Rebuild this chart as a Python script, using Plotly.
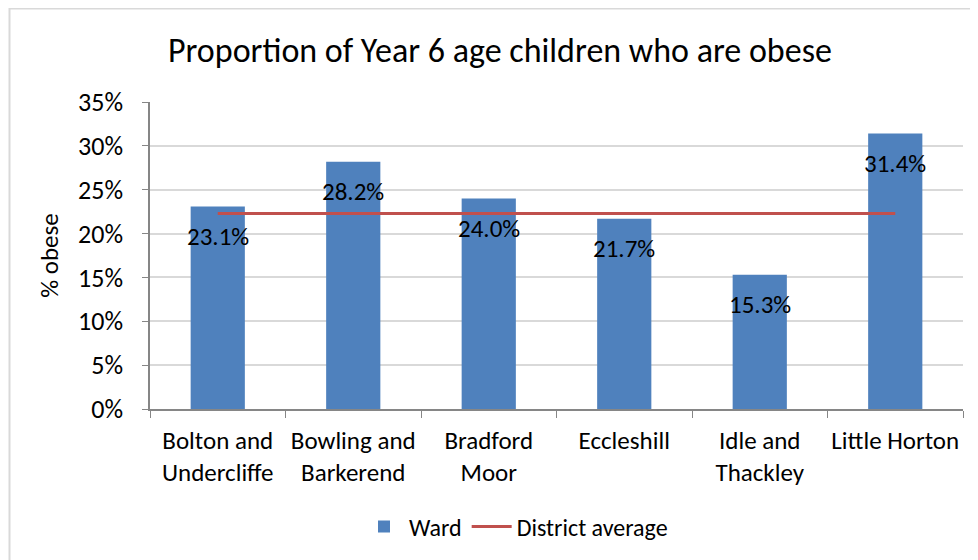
import plotly.graph_objects as go

categories = ["Bolton and<br>Undercliffe", "Bowling and<br>Barkerend", "Bradford<br>Moor",
              "Eccleshill", "Idle and<br>Thackley", "Little Horton"]
ward_values = [23.1, 28.2, 24.0, 21.7, 15.3, 31.4]
district_average = [22.3, 22.3, 22.3, 22.3, 22.3, 22.3]
y_ticks = [0, 5, 10, 15, 20, 25, 30, 35]
y_tick_labels = ["0%", "5%", "10%", "15%", "20%", "25%", "30%", "35%"]

FONT = "Carlito, Calibri, Lato, sans-serif"

# page body has an 8px margin; plot area targeted at page x 150..963, y 102..409
L, T, PW, PH = 142, 94, 813, 307

fig = go.Figure()
fig.add_trace(go.Bar(
    x=categories, y=ward_values, name="Ward",
    marker=dict(color="#4F81BD", line=dict(width=0)),
))
fig.add_trace(go.Scatter(
    x=categories, y=district_average, name="District average",
    mode="lines", line=dict(color="#C0504D", width=3),
))

annotations = [
    dict(x=c, y=v, xref="x", yref="y", text=f"{v:.1f}%", showarrow=False,
         yanchor="middle", xanchor="center", yshift=-30,
         font=dict(size=25, family=FONT, color="black"))
    for c, v in zip(categories, ward_values)
]

fig.update_layout(
    width=978, height=560,
    margin=dict(l=L, r=978 - L - PW, t=T, b=560 - T - PH, autoexpand=False),
    paper_bgcolor="white", plot_bgcolor="white",
    font=dict(family=FONT, size=26, color="black"),
    title=dict(text="Proportion of Year 6 age children who are obese",
               x=0.503, xanchor="center", y=0.925, yanchor="middle",
               font=dict(size=34, family=FONT, color="black")),
    bargap=0.6,
    showlegend=True,
    legend=dict(orientation="h", x=(508 - L) / PW, xanchor="center",
                y=(T + PH - 519) / PH, yanchor="middle",
                font=dict(size=24, family=FONT), traceorder="normal",
                itemwidth=40),
    annotations=annotations,
    shapes=[dict(type="rect", xref="paper", yref="paper",
                 x0=(1.5 - L) / PW, x1=(990 - L) / PW,
                 y0=(T + PH - 600) / PH, y1=1 + (T - 0.5) / PH,
                 line=dict(color="#D9D9D9", width=2), fillcolor="rgba(0,0,0,0)", layer="below")],
)
fig.update_xaxes(
    showline=True, linecolor="#868686", linewidth=1.5,
    ticks="outside", tickson="boundaries", ticklen=7, tickcolor="#868686",
    tickfont=dict(size=25, family=FONT), showgrid=False,
    tickangle=0, ticklabelstandoff=8,
)
fig.update_yaxes(
    range=[0, 35], tickvals=y_ticks, ticktext=y_tick_labels,
    showline=True, linecolor="#868686", linewidth=1.5,
    ticks="outside", ticklen=6, tickcolor="#868686",
    showgrid=True, gridcolor="#D9D9D9", gridwidth=1.5,
    tickfont=dict(size=26, family=FONT),
    ticklabelstandoff=14,
    title=dict(text="% obese", font=dict(size=25, family=FONT), standoff=12),
    zeroline=False,
)

fig.write_html("out.html")
